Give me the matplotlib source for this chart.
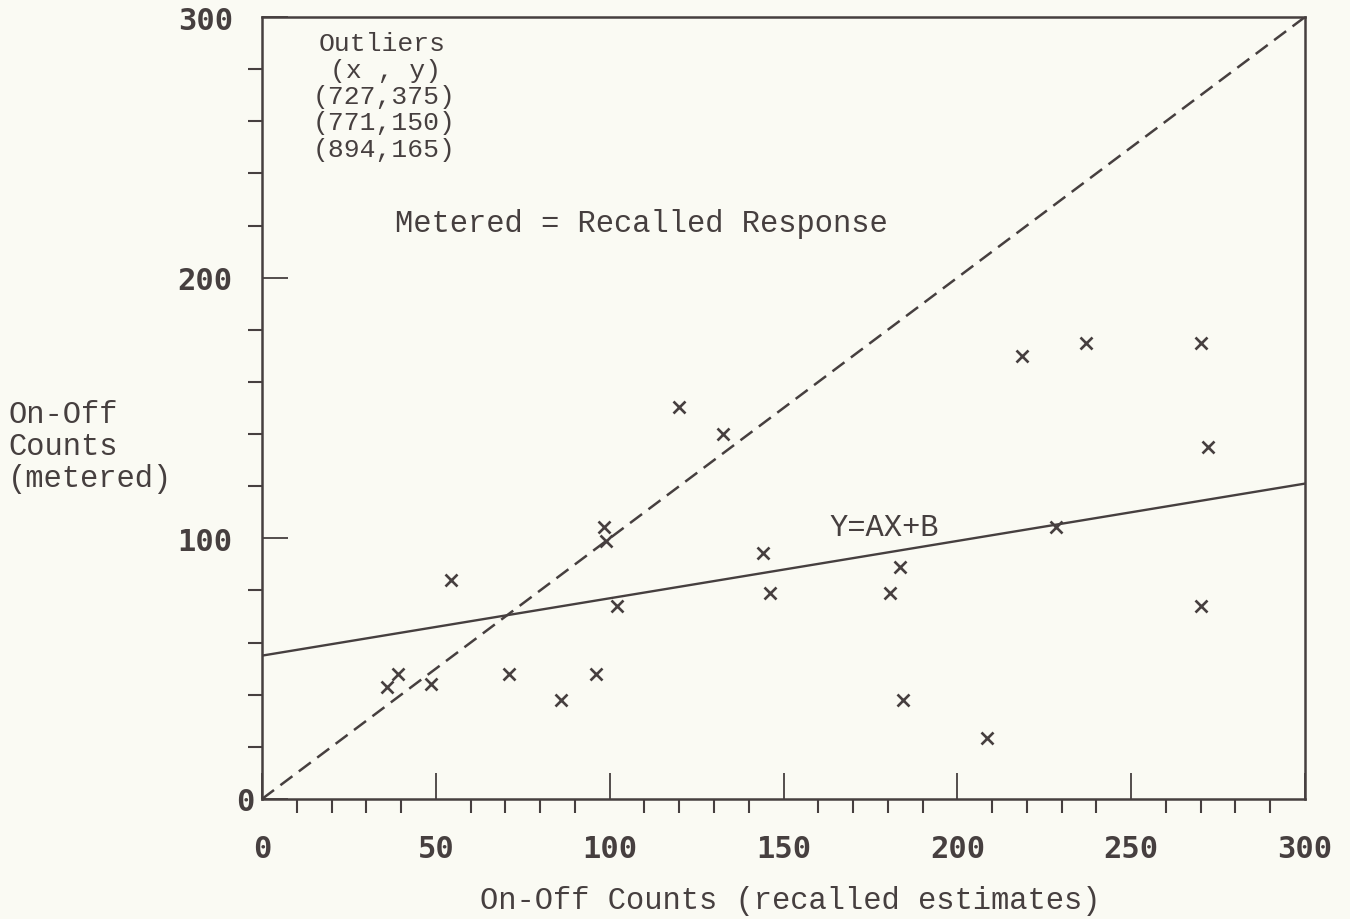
import numpy as np
import matplotlib
matplotlib.use("Agg")
import matplotlib.pyplot as plt
import matplotlib.transforms as mtransforms

# données
recalled = [36, 39, 48.5, 54.5, 71, 86, 96, 98.5, 99, 102, 120, 132.5,
            144, 146, 180.5, 183.5, 184.5, 208.5, 218.5, 228.5, 237, 270, 272, 270]
metered = [43, 48, 44, 84, 48, 38, 48, 104.5, 99, 74, 150.5, 140,
           94.5, 79, 79, 89, 38, 23.5, 170, 104.5, 175, 175, 135, 74]
fit_a = 0.22
fit_b = 55
outliers = ["(727,375)", "(771,150)", "(894,165)"]
x_ticks = [0, 50, 100, 150, 200, 250, 300]
y_ticks = [0, 100, 200, 300]

ink = "#463f3f"
bg = "#fafaf3"
mono = "Liberation Mono"
bold_mono = "DejaVu Sans Mono"
fs = 22

fig = plt.figure(figsize=(13.5, 9.2), dpi=100, facecolor=bg)
ax = fig.add_axes([262 / 1350, 1 - 800 / 920, (1305 - 262) / 1350, (800 - 18) / 920])
ax.set_facecolor(bg)

# droite metered = recalled (tirets) et droite de régression
xs = np.array([0, 300])
ax.plot(xs, xs, color=ink, lw=1.8, dashes=(6, 3.2))
ax.plot(xs, fit_a * xs + fit_b, color=ink, lw=1.7)

ax.plot(recalled, metered, "x", color=ink, ms=8.5, mew=1.9)

ax.set_xlim(0, 300)
ax.set_ylim(0, 300)
for s in ax.spines.values():
    s.set_color(ink)
    s.set_linewidth(1.8)

ax.set_xticks(x_ticks)
ax.set_yticks(y_ticks)
ax.set_xticks([v for v in range(10, 300, 10) if v % 50], minor=True)
ax.set_yticks([v for v in range(20, 300, 20) if v % 100], minor=True)
ax.tick_params(which="major", direction="in", length=19, width=1.3, color=ink,
               labelcolor=ink, labelsize=fs)
ax.tick_params(which="minor", direction="out", length=10, width=1.5, color=ink)
ax.tick_params(axis="x", which="major", pad=25)
ax.tick_params(axis="y", which="major", pad=21)
for lab in ax.get_xticklabels() + ax.get_yticklabels():
    lab.set_fontfamily(bold_mono)
    lab.set_fontweight("bold")
# le zéro de l'axe y est collé à l'axe
ylab0 = ax.get_yticklabels()[0]
ylab0.set_transform(ylab0.get_transform() + mtransforms.ScaledTranslation(0.22, 0, fig.dpi_scale_trans))

# annotations (bloc des valeurs aberrantes)
block = ["Outliers", "(x , y)"] + outliers
block_x = [34.5, 35.5, 35, 35, 35]
for i, s in enumerate(block):
    ax.text(block_x[i], 290 - 10.15 * i, s, family=mono, fontsize=19, color=ink,
            ha="center", va="center")
ax.text(109, 221, "Metered = Recalled Response", family=mono, fontsize=fs, color=ink,
        ha="center", va="center")
ax.text(179, 104.5, "Y=AX+B", family=mono, fontsize=fs, color=ink, ha="center", va="center")

fig.text(790 / 1350, 1 - 901 / 920, "On-Off Counts (recalled estimates)", family=mono,
         fontsize=fs, color=ink, ha="center", va="center")
for i, s in enumerate(["On-Off", "Counts", "(metered)"]):
    fig.text(8 / 1350, 1 - (415 + 32 * i) / 920, s, family=mono, fontsize=fs, color=ink,
             ha="left", va="center")

fig.savefig("out.png", dpi=100, facecolor=bg)
